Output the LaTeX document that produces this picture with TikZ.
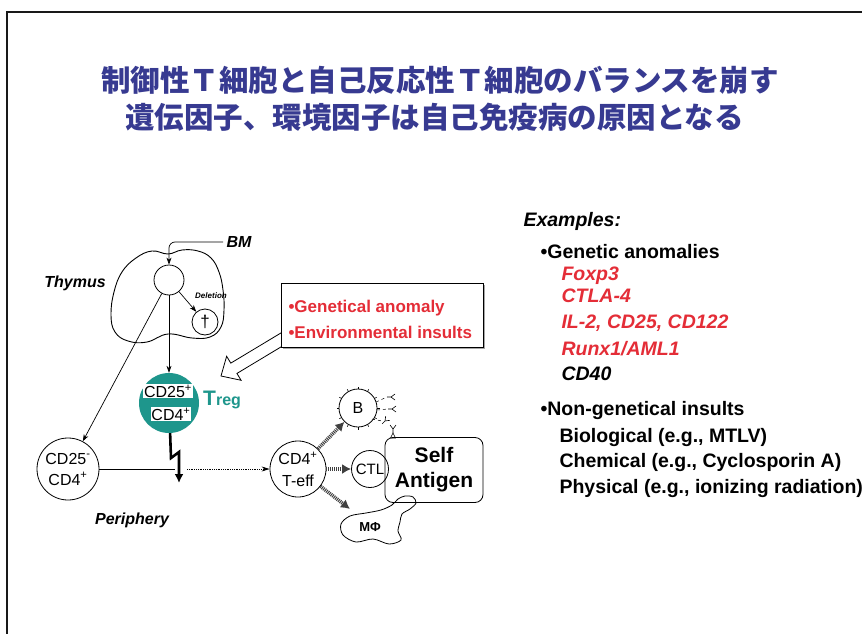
\documentclass[tikz,border=0pt]{standalone}
\usepackage{fontspec}
\setmainfont{Liberation Sans}
\newfontfamily\cjk{Noto Sans CJK JP}
\usetikzlibrary{arrows.meta,calc}
\definecolor{titleblue}{RGB}{55,58,145}
\definecolor{tregteal}{RGB}{30,150,140}
\definecolor{alertred}{RGB}{228,45,55}
\newcommand{\fs}[1]{\fontsize{#1}{#1}\selectfont}
\begin{document}
\begin{tikzpicture}[x=1pt,y=-1pt,
  cell/.style={circle,draw,line width=0.8pt,inner sep=0pt,align=center,font=\fs{16}},
  conn/.style={line width=0.7pt,-{Stealth[length=7pt,width=5pt]}},
  lbl/.style={font=\bfseries\itshape\fs{16}},
  effarrow/.style={line width=3.6pt,black!75,dash pattern=on 1pt off 0.9pt,
    -{Latex[length=9pt,width=10pt]}},
  rtext/.style={anchor=base west,font=\bfseries\fs{19.5}},
  ritem/.style={anchor=base west,font=\bfseries\itshape\fs{19.5}},
  antibody/.pic={\draw[line width=0.6pt] (0,0) -- (-4,0) (0,0) -- (4,-3) (0,0) -- (4,3);}
]
\fill[white] (0,0) rectangle (862,634);
\useasboundingbox (0,0) rectangle (862,634);

% frame
\draw[line width=2pt,black!90] (7,634) -- (7,12.5) -- (862,12.5);

% title
\node[font=\cjk\bfseries\fs{29.5},text=titleblue] (title1) at (440,80)
  {制御性Ｔ細胞と自己反応性Ｔ細胞のバランスを崩す};
\node[font=\cjk\bfseries\fs{29.5},text=titleblue] (title2) at (434.5,117)
  {遺伝因子、環境因子は自己免疫病の原因となる};

% thymus
\draw[line width=0.9pt] plot[smooth cycle,tension=0.7] coordinates {
  (168,254) (182,250) (198,251) (211,258) (219,272) (223,290) (224,310)
  (221,327) (210,337) (192,338) (168,334) (147,342) (128,341) (115,332)
  (111,315) (114,292) (122,272) (136,258) (152,251)};
\node[lbl] (thy) at (75,283) {Thymus};
\node[lbl,anchor=west] (bm) at (223,242) {BM};
\node[cell,minimum size=30pt,fill=white] (stem) at (169,280) {};
\node[cell,minimum size=26pt,font=\fs{17}] (dag) at (205,322) {†};
\node[font=\bfseries\itshape\fs{8}] (del) at (211,296) {Deletion};

% hollow arrow pointing at the Treg cell
\coordinate (htip) at (221,376);
\begin{scope}[shift={(htip)},rotate=31]
  \draw[line width=0.8pt,fill=white] (0,0) -- (15,14) -- (15,6) -- (95,6)
    -- (95,-6) -- (15,-6) -- (15,-14) -- cycle;
\end{scope}

% callout box
\fill[black!35] (283,285) rectangle (485,349);
\node[draw,fill=white,line width=0.8pt,minimum width=202pt,minimum height=64pt,
  inner sep=0pt] (callout) at (382,315) {};
\node[anchor=base west,text=alertred,font=\bfseries\fs{17}] (gen) at (285,312)
  {•Genetical anomaly};
\node[anchor=base west,text=alertred,font=\bfseries\fs{17}] (env) at (285,338)
  {•Environmental insults};

% Treg
\node[circle,fill=tregteal,minimum size=60pt,inner sep=0pt] (treg) at (169,403) {};
\node[fill=white,inner sep=0.6pt,font=\fs{16}] (cd25t) at (168,391) {CD25\textsuperscript{+}};
\node[fill=white,inner sep=0.6pt,font=\fs{16}] (cd4t) at (171,414) {CD4\textsuperscript{+}};
\node[anchor=west,text=tregteal,font=\bfseries,inner sep=0pt] (tregl) at (203,400)
  {{\fs{21}T}{\fs{16}reg}};

% periphery
\node[cell,minimum size=62pt,font=\fontsize{16}{21}\selectfont] (naive) at (68,469)
  {CD25\textsuperscript{-}\\CD4\textsuperscript{+}};
\node[lbl] (peri) at (132,520) {Periphery};
\node[cell,minimum size=56pt,font=\fontsize{16}{22}\selectfont] (teff) at (298,469)
  {CD4\textsuperscript{+}\\T-eff};

% thymic development
\draw[conn,rounded corners=6pt] (bm.west) -| (stem);
\draw[conn] (stem) -- (dag);
\draw[conn] (stem) -- (treg);
\draw[conn] (stem) -- (naive);

% suppression by Treg
\coordinate (k1) at (171,458);
\coordinate (k2) at (179,452);
\coordinate (block) at (179,483);
\coordinate (joinL) at (175,469);
\coordinate (joinR) at (187,469);
\draw[line width=2.6pt,-{Latex[length=9pt,width=9pt]}] (treg) -- (k1) -- (k2) -- (block);
\draw[line width=0.8pt] (naive) -- (joinL);
\draw[line width=0.8pt,densely dotted,-{Stealth[length=8pt,width=5pt]}] (joinR) -- (teff);

% effector cells
\node[cell,minimum size=38pt] (bcell) at (358,408) {B};
\foreach \a in {0,30,...,330}
  \draw[line width=0.6pt] ($(bcell.center)+(\a:19)$) -- ($(bcell.center)+(\a:21.5)$);
\draw[line width=0.5pt,dashed] (376,402) -- (387,397) (377,410) -- (388,409)
  (372,419) -- (382,421);
\pic at (391,397) {antibody};
\pic at (392,409) {antibody};
\pic[rotate=45] at (385,421) {antibody};
\pic[rotate=90] at (393,429) {antibody};
\draw[line width=0.5pt] (393,433) -- (390.5,438) -- (395.5,438) -- cycle;

\node[draw,line width=0.8pt,rounded corners=8pt,minimum width=98pt,minimum height=65pt,
  align=center,font=\bfseries\fontsize{21}{25}\selectfont] (sag) at (434,470) {Self\\Antigen};
\node[cell,minimum size=37pt,font=\fs{15}] (ctl) at (370,469) {CTL};

% macrophage
\draw[line width=0.8pt] plot[smooth cycle,tension=0.55] coordinates {
  (341,524) (350,516) (366,513) (381,510) (392,505) (398,499) (405,496)
  (413,497) (416,503) (410,509) (402,514) (400,522) (398,531) (401,540)
  (389,544) (373,539) (356,542) (343,535)};
\node[font=\bfseries\fs{13}] (mphi) at (370,527) {MΦ};
\coordinate (mphitop) at (350,509);

\draw[effarrow] (teff) -- (bcell);
\draw[effarrow] (teff) -- (ctl);
\draw[effarrow] (teff) -- (mphitop);

% examples list
\node[ritem] (ex) at (520,226) {Examples:};
\node[rtext] (ga) at (537,258) {•Genetic anomalies};
\node[ritem,text=alertred] (g1) at (558,280) {Foxp3};
\node[ritem,text=alertred] (g2) at (558,302) {CTLA-4};
\node[ritem,text=alertred] (g3) at (558,328) {IL-2, CD25, CD122};
\node[ritem,text=alertred] (g4) at (558,355) {Runx1/AML1};
\node[ritem] (g5) at (558,380) {CD40};
\node[rtext] (ng) at (537,415) {•Non-genetical insults};
\node[rtext] (n1) at (556,442) {Biological (e.g., MTLV)};
\node[rtext] (n2) at (556,467) {Chemical (e.g., Cyclosporin A)};
\node[rtext] (n3) at (556,493) {Physical (e.g., ionizing radiation)};
\end{tikzpicture}
\end{document}
